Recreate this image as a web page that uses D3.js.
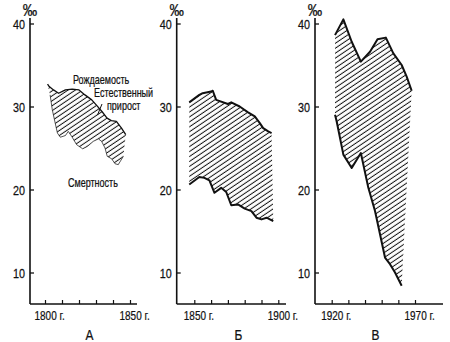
<!DOCTYPE html>
<html>
<head>
<meta charset="utf-8">
<script src="https://cdn.jsdelivr.net/npm/d3@7"></script>
<style>
    body { margin: 0; background: #fff; }
    text { font-family: "Liberation Sans", Arial, sans-serif; fill: #111; stroke: #111; stroke-width: 0.25; }
</style>
</head>
<body>
<div id="chart"></div>
<script>
// y ticks (per mille) and the year ticks of each panel
const yTicks = [10, 20, 30, 40];
const ticksA = [1800, 1810, 1820, 1830, 1840, 1850];
const ticksB = [1850, 1860, 1870, 1880, 1890, 1900];
const ticksC = [1920, 1930, 1940, 1950, 1960, 1970];
const panelNames = ["А", "Б", "В"];

// panel A: birth rate (upper) and death rate (lower)
const birthYearsA = [1801.5, 1802.5, 1805, 1808, 1812, 1816, 1820, 1823.5, 1827.5, 1830.5, 1833.5, 1836.5, 1839, 1842, 1845, 1847.5];
const birthA = [32.7, 32.4, 32.0, 31.6, 32.0, 32.1, 32.0, 31.4, 30.8, 30.1, 29.4, 28.6, 28.3, 28.2, 27.4, 26.6];
const deathYearsA = [1803, 1804.3, 1806, 1807.3, 1809, 1812, 1813.7, 1815.7, 1818.6, 1822.2, 1825, 1828.4, 1831.4, 1833.3, 1835.3, 1836.6, 1839.2, 1841.2, 1843.1, 1846.1];
const deathA = [31.4, 29.6, 28.0, 26.8, 26.3, 26.5, 27.0, 26.4, 25.4, 24.9, 25.2, 25.8, 26.1, 25.8, 25.0, 24.0, 23.7, 23.1, 23.0, 24.0];

// panel Б
const birthYearsB = [1847, 1853, 1855, 1860, 1861, 1863, 1870, 1872, 1877, 1882, 1886, 1889, 1891, 1894, 1896];
const birthB = [30.5, 31.4, 31.6, 31.8, 31.9, 30.8, 30.3, 30.5, 30.0, 29.3, 28.8, 28.0, 27.4, 27.0, 26.8];
const deathYearsB = [1847, 1853, 1856, 1859, 1862, 1866, 1869, 1872, 1876, 1880, 1884, 1887, 1890, 1893, 1897];
const deathB = [20.6, 21.5, 21.4, 21.1, 19.6, 20.2, 19.7, 18.1, 18.2, 17.7, 17.4, 16.6, 16.4, 16.6, 16.2];

// panel В
const birthYearsC = [1922, 1927, 1932, 1937.5, 1943, 1947.5, 1952.5, 1957, 1962, 1965, 1968];
const birthC = [38.6, 40.5, 37.8, 35.4, 36.6, 38.1, 38.3, 36.4, 35.0, 33.6, 31.9];
const deathYearsC = [1922, 1923, 1926, 1927, 1932, 1937.5, 1942, 1946, 1949, 1952, 1955, 1958, 1962];
const deathC = [29.0, 28.2, 25.2, 24.2, 22.6, 24.4, 20.2, 17.4, 14.6, 11.8, 11.0, 10.0, 8.4];

const w = 450;
const h = 342;
const axisY = 304; // y of the year axes
const axisTop = 18;

var svg = d3.select("#chart")
    .append("svg")
    .attr("width", w)
    .attr("height", h);

svg.append("rect").attr("width", w).attr("height", h).attr("fill", "#fff");

// diagonal hatching
svg.append("defs")
    .append("pattern")
    .attr("id", "hatch")
    .attr("patternUnits", "userSpaceOnUse")
    .attr("width", 10)
    .attr("height", 4.1)
    .attr("patternTransform", "rotate(-34)")
    .append("line")
    .attr("x1", 0).attr("y1", 2)
    .attr("x2", 10).attr("y2", 2)
    .attr("stroke", "#111")
    .attr("stroke-width", 1);

// narrow, book-like lettering: squeeze the text horizontally
function label(g, x, yy, str, size, anchor, sx) {
    return g.append("text")
        .attr("transform", `translate(${x},${yy}) scale(${sx},1)`)
        .attr("text-anchor", anchor)
        .attr("font-size", size)
        .text(str);
}

var y = d3.scaleLinear().domain([10, 40]).range([272.5, 23.5]);

// layout of each panel
const panels = [
    { axisX: 30, end: 137, x0: 45, x1: 130, ticks: ticksA, by: birthYearsA, b: birthA, dy: deathYearsA, d: deathA, bw: 1.3, dw: 0.7 },
    { axisX: 176.7, end: 286, x0: 194.3, x1: 278.3, ticks: ticksB, by: birthYearsB, b: birthB, dy: deathYearsB, d: deathB, bw: 2, dw: 2 },
    { axisX: 315, end: 443, x0: 331.7, x1: 415, ticks: ticksC, by: birthYearsC, b: birthC, dy: deathYearsC, d: deathC, bw: 2, dw: 2 }
];

panels.forEach(function (p, k) {
    var xs = d3.scaleLinear()
        .domain([p.ticks[0], p.ticks[p.ticks.length - 1]])
        .range([p.x0, p.x1]);
    var g = svg.append("g");

    var upper = p.by.map(function (yr, i) { return [xs(yr), y(p.b[i])]; });
    var lower = p.dy.map(function (yr, i) { return [xs(yr), y(p.d[i])]; });

    // hatched area between the two rates
    g.append("path")
        .attr("d", d3.line()(upper.concat(lower.slice().reverse())) + "Z")
        .attr("fill", "url(#hatch)");

    g.append("path")
        .attr("d", d3.line()(upper))
        .attr("fill", "none")
        .attr("stroke", "#111")
        .attr("stroke-width", p.bw)
        .attr("stroke-linejoin", "round");

    g.append("path")
        .attr("d", d3.line()(lower))
        .attr("fill", "none")
        .attr("stroke", "#111")
        .attr("stroke-width", p.dw)
        .attr("stroke-linejoin", "round");

    // y axis: ticks from d3, labels drawn narrow
    var ya = g.append("g")
        .attr("transform", `translate(${p.axisX},0)`)
        .call(d3.axisLeft(y).tickValues(yTicks).tickSize(-4).tickFormat(""));
    ya.select(".domain").remove();
    ya.selectAll("line").attr("stroke", "#111").attr("stroke-width", 1.3);
    yTicks.forEach(function (v) {
        label(g, p.axisX - 5, y(v) + 5, v, 13.5, "end", 0.8);
    });

    g.append("line")
        .attr("x1", p.axisX).attr("y1", axisTop)
        .attr("x2", p.axisX).attr("y2", axisY)
        .attr("stroke", "#111")
        .attr("stroke-width", 1.6);

    // x axis
    var xa = g.append("g")
        .attr("transform", `translate(0,${axisY})`)
        .call(d3.axisBottom(xs).tickValues(p.ticks).tickSize(-4).tickFormat(""));
    xa.select(".domain").remove();
    xa.selectAll("line").attr("stroke", "#111").attr("stroke-width", 1.2);

    g.append("line")
        .attr("x1", p.axisX).attr("y1", axisY)
        .attr("x2", p.end).attr("y2", axisY)
        .attr("stroke", "#111")
        .attr("stroke-width", 1.6);

    // first and last year labels, number centred on its tick
    [p.ticks[0], p.ticks[p.ticks.length - 1]].forEach(function (yr) {
        label(g, xs(yr) - 10.5, 319.5, yr + " г.", 13.5, "start", 0.74);
    });

    // per mille sign
    label(g, p.axisX, 16, "‰", 16, "middle", 0.9);

    // panel letter
    label(g, (p.x0 + p.x1) / 2 + 2, 340, panelNames[k], 14, "middle", 0.85);
});

// annotations of panel A
label(svg, 73, 84, "Рождаемость", 12.5, "start", 0.72);
label(svg, 94, 97, "Естественный", 12.5, "start", 0.72);
label(svg, 107, 109.5, "прирост", 12.5, "start", 0.72);
label(svg, 68, 187, "Смертность", 12.5, "start", 0.72);
svg.append("line")
    .attr("x1", 97.5).attr("y1", 115)
    .attr("x2", 102).attr("y2", 104)
    .attr("stroke", "#111")
    .attr("stroke-width", 1);
</script>
</body>
</html>
